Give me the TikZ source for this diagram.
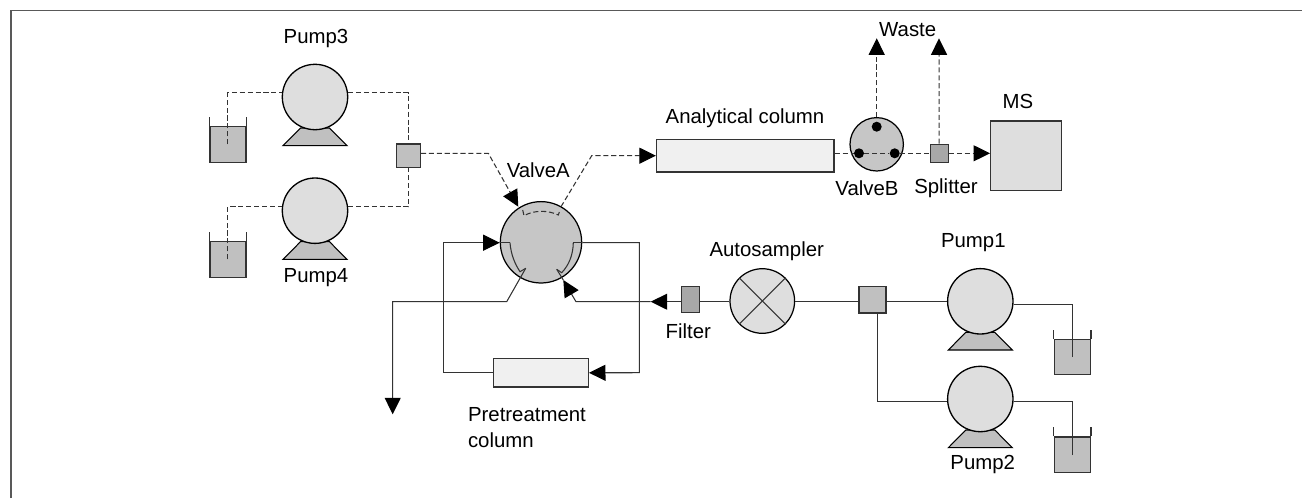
\documentclass[tikz,border=0pt]{standalone}
\usepackage{fontspec}
\setmainfont{Liberation Sans}
\usetikzlibrary{arrows.meta}
\definecolor{lightfill}{HTML}{DEDEDE}
\definecolor{midfill}{HTML}{C0C0C0}
\definecolor{valvefill}{HTML}{C6C6C6}
\definecolor{colfill}{HTML}{F0F0F0}
\definecolor{darkfill}{HTML}{A8A8A8}
\definecolor{linegray}{HTML}{333333}
\tikzset{
  lbl/.style={font=\fontsize{11.6}{15}\selectfont,inner sep=0pt},
  pipe/.style={line width=0.6pt,color=linegray},
  dashpipe/.style={pipe,dash pattern=on 2.9pt off 1.6pt},
  tip/.style={-{Triangle[length=3.3mm,width=3.2mm,color=black]}},
  pumpbody/.style={circle,draw,line width=0.75pt,fill=lightfill,minimum size=1.308cm,inner sep=0pt},
  valve/.style={circle,draw,line width=0.7pt,fill=valvefill,inner sep=0pt},
  box/.style={rectangle,draw=linegray,line width=0.8pt,inner sep=0pt},
  dot/.style={circle,fill=black,minimum size=0.2cm,inner sep=0pt}
}
\begin{document}
\begin{tikzpicture}[x=0.02cm,y=-0.02cm]
  \useasboundingbox (0,0) rectangle (1302,498);
  \draw[line width=1pt,color=black!65] (11,498) -- (11,10.5) -- (1302,10.5);
  % pumps
  \foreach \n/\x/\y in {pump3/315/97,pump4/315/210.7,pump1/980.3/301.3,pump2/980.3/399}{
    \draw[line width=0.6pt,fill=midfill] (\x-32,\y+48.7) -- (\x+32,\y+48.7) -- (\x+14.5,\y+31) -- (\x-14.5,\y+31) -- cycle;
    \node[pumpbody] (\n) at (\x,\y) {};
  }
  % tanks
  \foreach \n/\x/\y in {tank3/227.8/144.5,tank4/227.8/259.5,tank1/1072.3/357,tank2/1072.3/454.7}{
    \node[box,fill=midfill,minimum width=0.72cm,minimum height=0.71cm] (\n) at (\x,\y) {};
    \draw[line width=0.6pt,color=linegray] (\n.north west) -- ++(0,-9);
    \draw[line width=0.6pt,color=linegray] (\n.north east) -- ++(0,-9);
  }
  % valves and boxes
  \node[valve,minimum size=1.628cm] (valveA) at (541,242.3) {};
  \node[valve,minimum size=1.068cm] (valveB) at (876.7,144.3) {};
  \node[dot] (dotT) at (876.7,126.7) {};
  \node[dot] (dotL) at (859,153.3) {};
  \node[dot] (dotR) at (894.7,153.3) {};
  \node[box,fill=midfill,minimum size=0.47cm] (jct34) at (408.5,155.7) {};
  \node[box,fill=midfill,minimum width=0.54cm,minimum height=0.53cm] (jct12) at (872.5,299.7) {};
  \node[box,fill=darkfill,minimum size=0.36cm] (splitter) at (939.2,153.3) {};
  \node[box,fill=darkfill,minimum width=0.35cm,minimum height=0.52cm] (filter) at (690.5,299.7) {};
  \node[box,fill=colfill,minimum width=3.55cm,minimum height=0.65cm] (anacol) at (745.3,155.7) {};
  \node[box,fill=colfill,minimum width=1.9cm,minimum height=0.57cm] (precol) at (540.8,372.8) {};
  \node[box,fill=lightfill,minimum width=1.41cm,minimum height=1.39cm] (ms) at (1026,155.9) {};
  \node[circle,draw,line width=0.7pt,fill=lightfill,minimum size=1.292cm,inner sep=0pt] (sampler) at (762.3,301) {};
  \draw[pipe] (sampler.45) -- (sampler.225);
  \draw[pipe] (sampler.135) -- (sampler.315);
  % free ends
  \coordinate (wasteA) at (876.7,38.3);
  \coordinate (wasteB) at (939,38.3);
  \coordinate (drain) at (392.7,414.3);
  \coordinate (inA) at (518.3,206.7);
  \coordinate (outA) at (561,206.7);
  \coordinate (loopL) at (510,242.7);
  \coordinate (loopR) at (573.3,242.7);
  \coordinate (outB) at (525.7,268.3);
  \coordinate (inB) at (556.7,269.3);
  \coordinate (filterTip) at (650.7,301.7);
  % dashed side
  \draw[dashpipe] (227.8,144.3) |- (pump3.173);
  \draw[dashpipe] (pump3.7) -| (jct34.north);
  \draw[dashpipe] (227.8,259.3) |- (pump4.173);
  \draw[dashpipe] (pump4.7) -| (jct34.south);
  \draw[dashpipe,tip] (jct34.east |- 0,153.3) -- (488.3,153.3) -- (inA);
  \draw[dashpipe,tip] (outA) -- (591.7,155.7) -- (anacol.west);
  \draw[dashpipe] (522.7,210) -- (524,215.7) .. controls (534,210) and (548,210) .. (558.3,215) -- (560,210);
  \draw[dashpipe] (anacol.east |- 0,153.3) -- (dotL);
  \draw[dashpipe] (dotL) -- (dotR);
  \draw[dashpipe] (dotR) -- (splitter);
  \draw[dashpipe,tip] (splitter.east) -- (ms.west |- 0,153.3);
  \draw[dashpipe,tip] (valveB.north) -- (wasteA);
  \draw[dashpipe,tip] (splitter.north) -- (wasteB);
  % solid side
  \draw[pipe] (1072.3,357) |- (pump1.-5);
  \draw[pipe] (1072.3,455) |- (pump2.-5);
  \draw[pipe] (jct12.west |- 0,301.4) -- (sampler.east |- 0,301.4);
  \draw[pipe] (jct12.east |- 0,301.4) -- (pump1.west |- 0,301.4);
  \draw[pipe] (jct12.-72) |- (pump2.west |- 0,401.7);
  \draw[pipe] (sampler.west |- 0,301.7) -- (filter.east |- 0,301.7);
  \draw[pipe,tip] (filter.west |- 0,301.7) -- (filterTip);
  \draw[pipe,tip] (filterTip) -- (576,301.7) -- (563.3,280);
  \draw[pipe] (563.3,280) -- (inB);
  \draw[pipe,tip] (precol.west) -| (443.3,242.7) -- (valveA.west |- 0,242.7);
  \draw[pipe] (valveA.west |- 0,242.7) -- (loopL);
  \draw[pipe,tip] (valveA.east |- 0,242.7) -- (639.3,242.7) -- (639.3,372.7) -- (precol.east);
  \draw[pipe] (valveA.east |- 0,242.7) -- (loopR);
  \draw[pipe] (loopL) .. controls (511,255) and (515,264) .. (520,271.7) -- (outB);
  \draw[pipe] (loopR) .. controls (573,255) and (569,265) .. (561.7,272.7) -- (inB);
  \draw[pipe,tip] (outB) -- (506.7,301.7) -- (392.7,301.7) -- (drain);
  % labels
  \node[lbl] (lblP3) at (316,38.3) {Pump3};
  \node[lbl] (lblP4) at (316,277.3) {Pump4};
  \node[lbl] (lblP1) at (973.3,242.7) {Pump1};
  \node[lbl] (lblP2) at (982.7,464.3) {Pump2};
  \node[lbl] (lblVA) at (538.3,170.7) {ValveA};
  \node[lbl] (lblVB) at (867,188.7) {ValveB};
  \node[lbl] (lblSp) at (946,188.7) {Splitter};
  \node[lbl] (lblWa) at (907.7,30) {Waste};
  \node[lbl] (lblMS) at (1018,101) {MS};
  \node[lbl] (lblAn) at (745,118) {Analytical column};
  \node[lbl] (lblAu) at (766.7,251.7) {Autosampler};
  \node[lbl] (lblFi) at (688.3,331.7) {Filter};
  \node[lbl,align=left,anchor=north west] (lblPr) at (467.7,407) {Pretreatment\\column};
\end{tikzpicture}
\end{document}
